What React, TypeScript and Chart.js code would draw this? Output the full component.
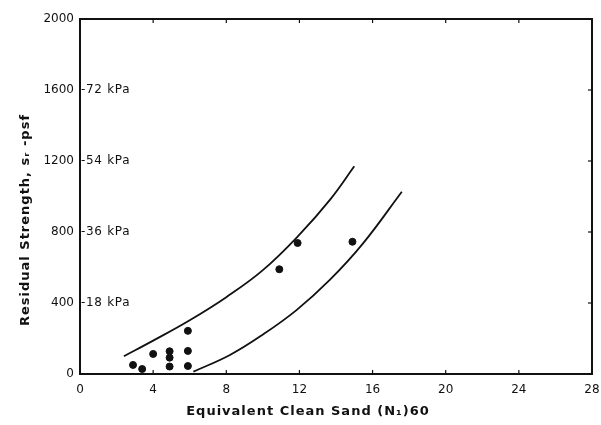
import React, { useEffect, useRef } from "react";
import { Chart, registerables } from "chart.js";
Chart.register(...registerables);

const upperX = [2.4, 4, 6, 8, 10, 12, 13.7, 15];
const upperY = [100, 188, 303, 433, 585, 785, 985, 1170];
const lowerX = [6.2, 8.2, 10, 11.84, 13.66, 15.48, 17.6];
const lowerY = [13, 107, 222, 360, 530, 736, 1027];
const pointsX = [2.9, 3.4, 4.0, 4.9, 4.9, 4.9, 5.9, 5.9, 5.9, 10.9, 11.9, 14.9];
const pointsY = [51, 28, 113, 128, 92, 42, 243, 130, 45, 590, 738, 745];
const xTicks = [0, 4, 8, 12, 16, 20, 24, 28];
const yTicks = [0, 400, 800, 1200, 1600, 2000];
const kpaValues = [400, 800, 1200, 1600];
const kpaLabels = ["-18 kPa", "-36 kPa", "-54 kPa", "-72 kPa"];
const xTitle = "Equivalent Clean Sand (N\u2081)60";
const yTitle = "Residual Strength, s\u1D63 -psf";

const toPts = (xs: number[], ys: number[]) => xs.map((x, i) => ({ x, y: ys[i] }));

const framePlugin = {
  id: "frame",
  afterDraw(chart: any) {
    const { ctx, chartArea: a, scales } = chart;
    const xs = scales.x;
    const ys = scales.y;
    ctx.save();
    ctx.strokeStyle = "#111";
    ctx.lineWidth = 2;
    ctx.strokeRect(a.left, a.top, a.right - a.left, a.bottom - a.top);
    ctx.lineWidth = 1.2;
    const t = 4;
    xTicks.forEach((v) => {
      const px = xs.getPixelForValue(v);
      ctx.beginPath();
      ctx.moveTo(px, a.bottom);
      ctx.lineTo(px, a.bottom - t);
      ctx.moveTo(px, a.top);
      ctx.lineTo(px, a.top + t);
      ctx.stroke();
    });
    yTicks.forEach((v) => {
      const py = ys.getPixelForValue(v);
      ctx.beginPath();
      ctx.moveTo(a.right, py);
      ctx.lineTo(a.right - t, py);
      ctx.stroke();
    });
    ctx.fillStyle = "#111";
    ctx.font = "12px 'DejaVu Sans'";
    (ctx as any).letterSpacing = "0.7px";
    ctx.textBaseline = "middle";
    ctx.textAlign = "left";
    kpaValues.forEach((v, i) => {
      const py = ys.getPixelForValue(v);
      ctx.fillText(kpaLabels[i], a.left + 1, py);
    });
    ctx.font = "bold 13px 'DejaVu Sans'";
    (ctx as any).letterSpacing = "1px";
    ctx.textAlign = "center";
    ctx.fillText(xTitle, 308, 412);
    ctx.translate(26, 220);
    ctx.rotate(-Math.PI / 2);
    ctx.fillText(yTitle, 0, 0);
    (ctx as any).letterSpacing = "0px";
    ctx.restore();
  },
};

export default function App() {
  const ref = useRef<HTMLCanvasElement | null>(null);
  useEffect(() => {
    if (!ref.current) return;
    const chart = new Chart(ref.current, {
      type: "scatter",
      data: {
        datasets: [
          {
            type: "line",
            data: toPts(upperX, upperY),
            borderColor: "#111",
            borderWidth: 1.8,
            pointRadius: 0,
            tension: 0.4,
            fill: false,
          } as any,
          {
            type: "line",
            data: toPts(lowerX, lowerY),
            borderColor: "#111",
            borderWidth: 1.8,
            pointRadius: 0,
            tension: 0.4,
            fill: false,
          } as any,
          {
            data: toPts(pointsX, pointsY),
            backgroundColor: "#111",
            borderColor: "#111",
            pointRadius: 3.5,
          },
        ],
      },
      options: {
        animation: false,
        responsive: false,
        maintainAspectRatio: false,
        layout: { padding: { left: 0, right: 9, top: 19, bottom: 0 } },
        plugins: { legend: { display: false }, tooltip: { enabled: false } },
        scales: {
          x: {
            type: "linear",
            min: 0,
            max: 28,
            grid: { display: false, drawTicks: false },
            border: { display: false },
            ticks: {
              stepSize: 4,
              padding: 9,
              color: "#111",
              font: { family: "'DejaVu Sans'", size: 12 },
              maxRotation: 0,
              callback: (v: any) => String(v),
            },
            afterFit: (s: any) => {
              s.height = 51;
              s.paddingRight = 0;
              s.paddingLeft = 0;
            },
          },
          y: {
            type: "linear",
            min: 0,
            max: 2000,
            grid: { display: false, drawTicks: false },
            border: { display: false },
            ticks: {
              stepSize: 400,
              padding: 6,
              color: "#111",
              font: { family: "'DejaVu Sans'", size: 12 },
              callback: (v: any) => String(v),
            },
            afterFit: (s: any) => {
              s.width = 80;
              s.paddingTop = 0;
              s.paddingBottom = 0;
            },
          },
        },
      },
      plugins: [framePlugin],
    });
    return () => chart.destroy();
  }, []);
  return (
    <div style={{ position: "absolute", left: 0, top: 0, width: 601, height: 425, background: "#fff" }}>
      <canvas ref={ref} width={601} height={425} style={{ width: 601, height: 425, display: "block" }} />
    </div>
  );
}
